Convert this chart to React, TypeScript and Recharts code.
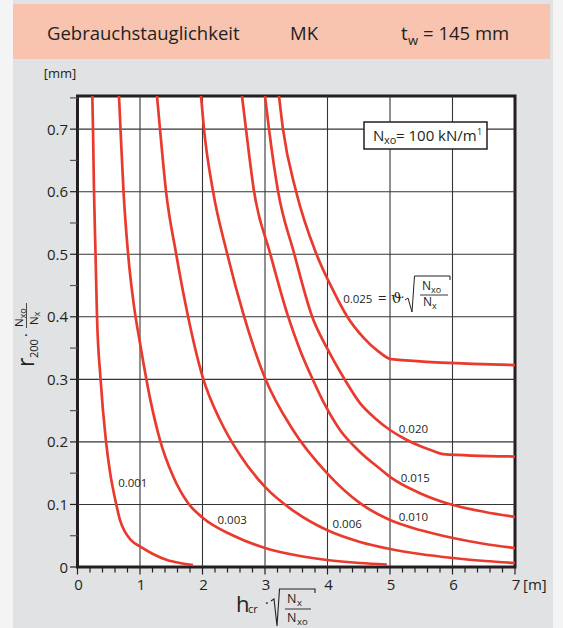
import React from 'react';
import { ComposedChart, Line, XAxis, YAxis, ReferenceLine, ReferenceArea, Scatter } from 'recharts';

const FONT = '"Open Sans", "Noto Sans", sans-serif';
const RED = '#ea3a2e';
const INK = '#231f20';

// curves r200·Nxo/Nx over hcr·sqrt(Nx/Nxo), one per theta value
const c001 = [
  { x: 0.237, y: 0.753 }, { x: 0.248, y: 0.7 }, { x: 0.264, y: 0.601 }, { x: 0.288, y: 0.502 },
  { x: 0.312, y: 0.401 }, { x: 0.368, y: 0.302 }, { x: 0.456, y: 0.201 }, { x: 0.52, y: 0.152 },
  { x: 0.616, y: 0.102 }, { x: 0.68, y: 0.075 }, { x: 0.76, y: 0.056 }, { x: 0.856, y: 0.043 },
  { x: 1.0, y: 0.0328 }, { x: 1.192, y: 0.0216 }, { x: 1.432, y: 0.0112 }, { x: 1.64, y: 0.0064 },
  { x: 1.848, y: 0.0032 },
];
const c003 = [
  { x: 0.664, y: 0.753 }, { x: 0.688, y: 0.7 }, { x: 0.736, y: 0.601 }, { x: 0.808, y: 0.502 },
  { x: 0.904, y: 0.417 }, { x: 1.0, y: 0.358 }, { x: 1.16, y: 0.27 }, { x: 1.32, y: 0.203 },
  { x: 1.528, y: 0.1454 }, { x: 1.768, y: 0.1023 }, { x: 2.008, y: 0.0783 }, { x: 2.472, y: 0.0511 },
  { x: 3.0, y: 0.0304 }, { x: 3.56, y: 0.0176 }, { x: 3.99, y: 0.0112 }, { x: 4.52, y: 0.0064 },
  { x: 4.95, y: 0.004 },
];
const c006 = [
  { x: 1.272, y: 0.753 }, { x: 1.32, y: 0.7 }, { x: 1.416, y: 0.601 }, { x: 1.576, y: 0.502 },
  { x: 1.768, y: 0.401 }, { x: 2.008, y: 0.302 }, { x: 2.28, y: 0.235 }, { x: 2.6, y: 0.179 },
  { x: 3.0, y: 0.128 }, { x: 3.48, y: 0.088 }, { x: 3.99, y: 0.059 }, { x: 4.52, y: 0.04 },
  { x: 5.0, y: 0.0288 }, { x: 5.48, y: 0.0208 }, { x: 6.01, y: 0.0144 }, { x: 6.52, y: 0.0096 },
  { x: 7.0, y: 0.0064 },
];
const c010 = [
  { x: 1.976, y: 0.753 }, { x: 2.024, y: 0.7 }, { x: 2.168, y: 0.601 }, { x: 2.392, y: 0.502 },
  { x: 2.664, y: 0.401 }, { x: 3.0, y: 0.302 }, { x: 3.448, y: 0.219 }, { x: 3.992, y: 0.15 },
  { x: 4.52, y: 0.102 }, { x: 5.0, y: 0.0751 }, { x: 5.48, y: 0.0591 }, { x: 6.008, y: 0.0463 },
  { x: 6.52, y: 0.0368 }, { x: 7.0, y: 0.0304 },
];
const c015 = [
  { x: 2.632, y: 0.753 }, { x: 2.696, y: 0.7 }, { x: 2.824, y: 0.601 }, { x: 3.08, y: 0.502 },
  { x: 3.368, y: 0.401 }, { x: 3.56, y: 0.347 }, { x: 3.768, y: 0.299 }, { x: 3.96, y: 0.259 },
  { x: 4.2, y: 0.219 }, { x: 4.52, y: 0.184 }, { x: 4.84, y: 0.157 }, { x: 5.0, y: 0.144 },
  { x: 5.48, y: 0.118 }, { x: 6.008, y: 0.099 }, { x: 6.52, y: 0.088 }, { x: 7.0, y: 0.08 },
];
const c020 = [
  { x: 3.0, y: 0.753 }, { x: 3.064, y: 0.7 }, { x: 3.208, y: 0.601 }, { x: 3.464, y: 0.502 },
  { x: 3.752, y: 0.401 }, { x: 4.008, y: 0.347 }, { x: 4.28, y: 0.299 }, { x: 4.52, y: 0.262 },
  { x: 4.76, y: 0.238 }, { x: 5.0, y: 0.219 }, { x: 5.24, y: 0.2046 }, { x: 5.48, y: 0.1934 },
  { x: 5.672, y: 0.1862 }, { x: 5.848, y: 0.1806 }, { x: 7.0, y: 0.1766 },
];
const c025 = [
  { x: 3.224, y: 0.753 }, { x: 3.288, y: 0.7 }, { x: 3.496, y: 0.601 }, { x: 3.816, y: 0.502 },
  { x: 4.104, y: 0.4395 }, { x: 4.312, y: 0.401 }, { x: 4.568, y: 0.3676 }, { x: 4.808, y: 0.3452 },
  { x: 5.016, y: 0.3324 }, { x: 7.0, y: 0.3228 },
];
const curves = [c001, c003, c006, c010, c015, c020, c025];

const curveLabels = [
  { x: 0.65, y: 0.128, label: '0.001' },
  { x: 2.24, y: 0.068, label: '0.003' },
  { x: 4.08, y: 0.063, label: '0.006' },
  { x: 5.14, y: 0.074, label: '0.010' },
  { x: 5.17, y: 0.136, label: '0.015' },
  { x: 5.14, y: 0.214, label: '0.020' },
  { x: 4.25, y: 0.422, label: '0.025' },
];

const xMajorTicks = [0, 1, 2, 3, 4, 5, 6, 7];
const xMajorLabels = ['0', '1', '2', '3', '4', '5', '6', '7'];
const xTicks = [0, 0.2, 0.4, 0.6, 0.8, 1, 1.2, 1.4, 1.6, 1.8, 2, 2.2, 2.4, 2.6, 2.8, 3, 3.2, 3.4, 3.6, 3.8,
  4, 4.2, 4.4, 4.6, 4.8, 5, 5.2, 5.4, 5.6, 5.8, 6, 6.2, 6.4, 6.6, 6.8, 7];
const xUnit = '[m]';
const yMajorTicks = [0, 0.1, 0.2, 0.3, 0.4, 0.5, 0.6, 0.7];
const yMajorLabels = ['0', '0.1', '0.2', '0.3', '0.4', '0.5', '0.6', '0.7'];
const yTicks = [0, 0.05, 0.1, 0.15, 0.2, 0.25, 0.3, 0.35, 0.4, 0.45, 0.5, 0.55, 0.6, 0.65, 0.7, 0.75];
const yUnit = '[mm]';
const xGrid = [1, 2, 3, 4, 5, 6];
const yGrid = [0.1, 0.2, 0.3, 0.4, 0.5, 0.6, 0.7];
const xMax = 7;
const yMax = 0.753;

const idx = (arr: number[], v: number) => arr.findIndex((m) => Math.abs(m - v) < 1e-6);

const XTick = (props: any) => {
  const { x, y, payload } = props;
  const i = idx(xMajorTicks, payload.value);
  const major = i >= 0;
  return (
    <g>
      <line x1={x} x2={x} y1={y} y2={y + (major ? 7.5 : 5.5)} stroke={INK} strokeWidth={1.2} />
      {major && (
        <text x={x + 1} y={y + 23} textAnchor="middle" fontSize={15} fill={INK} fontFamily={FONT}>
          {xMajorLabels[i]}
        </text>
      )}
      {major && i === xMajorTicks.length - 1 && (
        <text x={x + 8} y={y + 23} textAnchor="start" fontSize={15} fill={INK} fontFamily={FONT}>
          {xUnit}
        </text>
      )}
    </g>
  );
};

const YTick = (props: any) => {
  const { x, y, payload } = props;
  const i = idx(yMajorTicks, payload.value);
  const major = i >= 0;
  return (
    <g>
      <line x1={x - 7.5} x2={x} y1={y} y2={y} stroke={major ? INK : '#555'} strokeWidth={1.2} />
      {major && (
        <text x={x - 9.5} y={y + 5.5} textAnchor="end" fontSize={15} fill={INK} fontFamily={FONT}>
          {yMajorLabels[i]}
        </text>
      )}
    </g>
  );
};

const LabelShape = (props: any) => {
  const { cx, cy, payload } = props;
  return (
    <text x={cx} y={cy} fontSize={11.5} fill={INK} fontFamily={FONT}>
      {payload.label}
    </text>
  );
};

export default function App() {
  return (
    <div style={{ position: 'relative', width: 563, height: 628, background: '#f4f4f4', overflow: 'hidden', fontFamily: FONT }}>
      <style>{`body{margin:0}`}</style>
      <div style={{ position: 'absolute', left: 13, top: 0, width: 540, height: 628, background: '#e1e2e4' }} />
      <div style={{ position: 'absolute', left: 13, top: 4, width: 537, height: 55, background: '#f8c4b0' }} />
      <div style={{ position: 'absolute', left: 77.5, top: 96, width: 437.5, height: 471, background: '#ffffff' }} />
      <div style={{ position: 'absolute', left: 0, top: 0 }}>
        <ComposedChart width={563} height={628} margin={{ top: 96, right: 48, bottom: 0, left: 0 }}>
          <XAxis
            dataKey="x"
            type="number"
            domain={[0, xMax]}
            ticks={xTicks}
            interval={0}
            allowDataOverflow
            axisLine={false}
            tickLine={false}
            tickSize={0}
            tickMargin={0}
            height={61}
            tick={<XTick />}
          />
          <YAxis
            dataKey="y"
            type="number"
            domain={[0, yMax]}
            ticks={yTicks}
            interval={0}
            allowDataOverflow
            axisLine={false}
            tickLine={false}
            tickSize={0}
            tickMargin={0}
            width={77.5}
            tick={<YTick />}
          />
          {xGrid.map((v) => (
            <ReferenceLine key={'vx' + v} x={v} stroke="#353535" strokeWidth={1.1} />
          ))}
          {yGrid.map((v) => (
            <ReferenceLine key={'hy' + v} y={v} stroke="#353535" strokeWidth={1.1} />
          ))}
          {curves.map((d, i) => (
            <Line
              key={'c' + i}
              data={d}
              dataKey="y"
              type="monotone"
              stroke={RED}
              strokeWidth={2.7}
              dot={false}
              activeDot={false}
              isAnimationActive={false}
            />
          ))}
          <Scatter data={curveLabels} shape={<LabelShape />} isAnimationActive={false} />
          <ReferenceArea x1={0} x2={xMax} y1={0} y2={yMax} fill="none" stroke={INK} strokeWidth={3} />
        </ComposedChart>
      </div>
      <svg width={563} height={628} style={{ position: 'absolute', left: 0, top: 0, pointerEvents: 'none' }}>
        {/* header */}
        <g fontFamily={FONT} fill={INK}>
          <text x={47} y={40} fontSize={18.5}>Gebrauchstauglichkeit</text>
          <text x={290} y={40} fontSize={18.5}>MK</text>
          <text x={401} y={40} fontSize={18.5}>t</text>
          <text x={408} y={45} fontSize={13}>w</text>
          <text x={423} y={40} fontSize={18.5}>= 145 mm</text>
        </g>
        {/* y unit */}
        <text x={60} y={78} textAnchor="middle" fontSize={13} fill={INK} fontFamily={FONT}>{yUnit}</text>
        {/* y axis title */}
        <g transform="translate(34,367) rotate(-90)" fill={INK} fontFamily={FONT}>
          <text x={0} y={0} fontSize={23}>r</text>
          <text x={9} y={4} fontSize={11}>200</text>
          <text x={30} y={-3} fontSize={15}>·</text>
          <text x={40} y={-11} fontSize={11.5}>N</text>
          <text x={48.5} y={-8.5} fontSize={9}>xo</text>
          <line x1={39} x2={64} y1={-7.5} y2={-7.5} stroke={INK} strokeWidth={0.8} />
          <text x={42} y={4} fontSize={11.5}>N</text>
          <text x={50.5} y={6} fontSize={9}>x</text>
        </g>
        {/* x axis title */}
        <g fill={INK} fontFamily={FONT}>
          <text x={236} y={612} fontSize={22}>h</text>
          <text x={248} y={613} fontSize={11}>cr</text>
          <text x={265} y={608} fontSize={14}>·</text>
          <path d="M 271 601 L 274 599 L 277 626 L 279.5 589 L 315 589 L 315 593" fill="none" stroke={INK} strokeWidth={1.1} />
          <text x={287} y={603} fontSize={12.5}>N</text>
          <text x={297} y={606} fontSize={9.5}>x</text>
          <line x1={285} x2={311} y1={609} y2={609} stroke={INK} strokeWidth={0.9} />
          <text x={287} y={621.5} fontSize={12.5}>N</text>
          <text x={297} y={624.5} fontSize={9.5}>xo</text>
        </g>
        {/* formula near 0.025 */}
        <g fill={INK} fontFamily={FONT}>
          <text x={378} y={303} fontSize={15}>=</text>
          <text x={391} y={303} fontSize={15} fontFamily='"DejaVu Serif", serif'>ϑ</text>
          <text x={401} y={302} fontSize={12}>·</text>
          <path d="M 405 300 L 408 298 L 412 312 L 414.5 276 L 450 276 L 450 280" fill="none" stroke={INK} strokeWidth={1} />
          <text x={422} y={290} fontSize={12}>N</text>
          <text x={431} y={293} fontSize={9}>xo</text>
          <line x1={420} x2={448} y1={295} y2={295} stroke={INK} strokeWidth={0.9} />
          <text x={423} y={306} fontSize={12}>N</text>
          <text x={432} y={309} fontSize={9}>x</text>
        </g>
        {/* Nxo box */}
        <g fill={INK} fontFamily={FONT}>
          <rect x={364} y={122} width={123} height={27} fill="#ffffff" stroke={INK} strokeWidth={1.5} />
          <text x={373} y={141} fontSize={15}>N</text>
          <text x={384} y={144} fontSize={11}>xo</text>
          <text x={396} y={141} fontSize={15}>= 100 kN/m</text>
          <text x={477} y={135} fontSize={9}>1</text>
        </g>
      </svg>
    </div>
  );
}
